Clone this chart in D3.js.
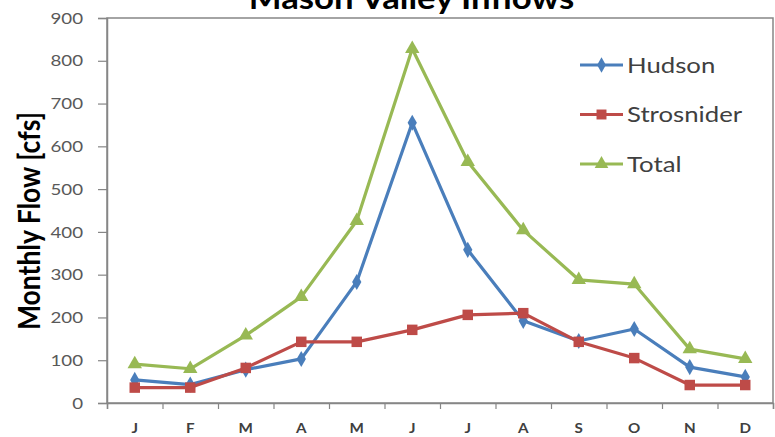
<!DOCTYPE html>
<html>
<head>
<meta charset="utf-8">
<script src="https://cdn.jsdelivr.net/npm/d3@7"></script>
<style>
  html, body { margin: 0; padding: 0; background: #fff; }
  svg { display: block; }
</style>
</head>
<body>
<svg id="chart" width="775" height="437"></svg>
<script>
const months = ["J","F","M","A","M","J","J","A","S","O","N","D"];
const hudson = [54, 43, 78, 103, 283, 655, 358, 192, 145, 173, 84, 61];
const strosnider = [36, 36, 82, 143, 143, 171, 206, 210, 143, 105, 42, 42];
const total = [91, 80, 158, 248, 426, 828, 564, 404, 288, 278, 126, 103];
const yTicks = [0, 100, 200, 300, 400, 500, 600, 700, 800, 900];
const seriesNames = ["Hudson", "Strosnider", "Total"];
const title = "Mason Valley Inflows";
const yTitle = "Monthly Flow [cfs]";

(function () {
const colors = { Hudson: "#4A7EBB", Strosnider: "#BE4B48", Total: "#98B954" };
const symbols = { Hudson: d3.symbolDiamond, Strosnider: d3.symbolSquare, Total: d3.symbolTriangle };
const symSize = { Hudson: 75, Strosnider: 110, Total: 90 };
const SX = 1.17; // horizontal text stretch seen in the reference
const FONT = "Lato, 'Open Sans', sans-serif";

const series = [
  { name: "Hudson", values: hudson },
  { name: "Strosnider", values: strosnider },
  { name: "Total", values: total }
];

const svg = d3.select("#chart");
const pL = 107, pR = 773, pT = 18, pB = 403;

const x = d3.scaleBand().domain(d3.range(months.length)).range([pL, pR]).paddingInner(0).paddingOuter(0);
const xEdge = d3.scaleLinear().domain([0, months.length]).range([pL, pR]);
const y = d3.scaleLinear().domain([0, 900]).range([pB, pT]);
const cx = i => x(i) + x.bandwidth() / 2;

// Title
svg.append("text")
  .attr("transform", `translate(411.5,9) scale(${SX},1)`)
  .attr("text-anchor", "middle")
  .attr("font-family", FONT)
  .attr("font-weight", "bold")
  .attr("font-size", 29.7)
  .attr("fill", "#000")
  .text(title);

// Plot-area border
svg.append("rect")
  .attr("x", pL).attr("y", pT)
  .attr("width", pR - pL).attr("height", pB - pT)
  .attr("fill", "none").attr("stroke", "#868686").attr("stroke-width", 1.5);

// Y axis
const yAxis = svg.append("g")
  .attr("transform", `translate(${pL},0)`)
  .call(d3.axisLeft(y).tickValues(yTicks).tickSize(9).tickPadding(11.5));
yAxis.select(".domain").attr("stroke", "#868686").attr("stroke-width", 1.5);
yAxis.selectAll(".tick line").attr("stroke", "#868686").attr("stroke-width", 1.2);
yAxis.selectAll(".tick text")
  .attr("transform", `scale(${SX},1)`)
  .attr("font-family", FONT)
  .attr("font-size", 16)
  .attr("fill", "#595959");

// X axis boundary ticks
const xTickAxis = svg.append("g")
  .attr("transform", `translate(0,${pB})`)
  .call(d3.axisBottom(xEdge).tickValues(d3.range(months.length + 1)).tickSize(6).tickFormat(""));
xTickAxis.select(".domain").attr("stroke", "#868686").attr("stroke-width", 1.5);
xTickAxis.selectAll(".tick line").attr("stroke", "#868686").attr("stroke-width", 1.2);

// X labels
const xAxis = svg.append("g")
  .attr("transform", `translate(0,${pB})`)
  .call(d3.axisBottom(x).tickSize(0).tickPadding(21).tickFormat(i => months[i]));
xAxis.select(".domain").remove();
xAxis.selectAll(".tick text")
  .attr("transform", `scale(${SX},1)`)
  .attr("font-family", FONT)
  .attr("font-weight", "bold")
  .attr("font-size", 13)
  .attr("fill", "#404040");

// Y title
svg.append("text")
  .attr("transform", `translate(40,221) scale(${SX},1) rotate(-90)`)
  .attr("text-anchor", "middle")
  .attr("font-family", FONT)
  .attr("font-weight", "bold")
  .attr("font-size", 26.5)
  .attr("fill", "#000")
  .text(yTitle);

// Lines
const line = d3.line().x((d, i) => cx(i)).y(d => y(d));
series.forEach(s => {
  svg.append("path")
    .datum(s.values)
    .attr("fill", "none")
    .attr("stroke", colors[s.name])
    .attr("stroke-width", 3.2)
    .attr("stroke-linejoin", "round")
    .attr("d", line);
});
series.forEach(s => {
  svg.append("g").selectAll("path")
    .data(s.values)
    .join("path")
    .attr("transform", (d, i) => `translate(${cx(i)},${y(d)})`)
    .attr("d", d3.symbol().type(symbols[s.name]).size(symSize[s.name]))
    .attr("fill", colors[s.name]);
});

// Legend
const legendY = d3.scalePoint().domain(seriesNames).range([65, 164]);
const lg = svg.append("g");
seriesNames.forEach(n => {
  const ly = legendY(n);
  lg.append("line").attr("x1", 580).attr("x2", 623).attr("y1", ly).attr("y2", ly)
    .attr("stroke", colors[n]).attr("stroke-width", 3);
  lg.append("path").attr("transform", `translate(601.5,${ly})`)
    .attr("d", d3.symbol().type(symbols[n]).size(symSize[n] * 0.9))
    .attr("fill", colors[n]);
  lg.append("text")
    .attr("transform", `translate(627,${ly}) scale(${SX},1)`)
    .attr("dy", "0.35em")
    .attr("font-family", FONT)
    .attr("font-size", 22)
    .attr("fill", "#404040")
    .text(n);
});
})();
</script>
</body>
</html>
